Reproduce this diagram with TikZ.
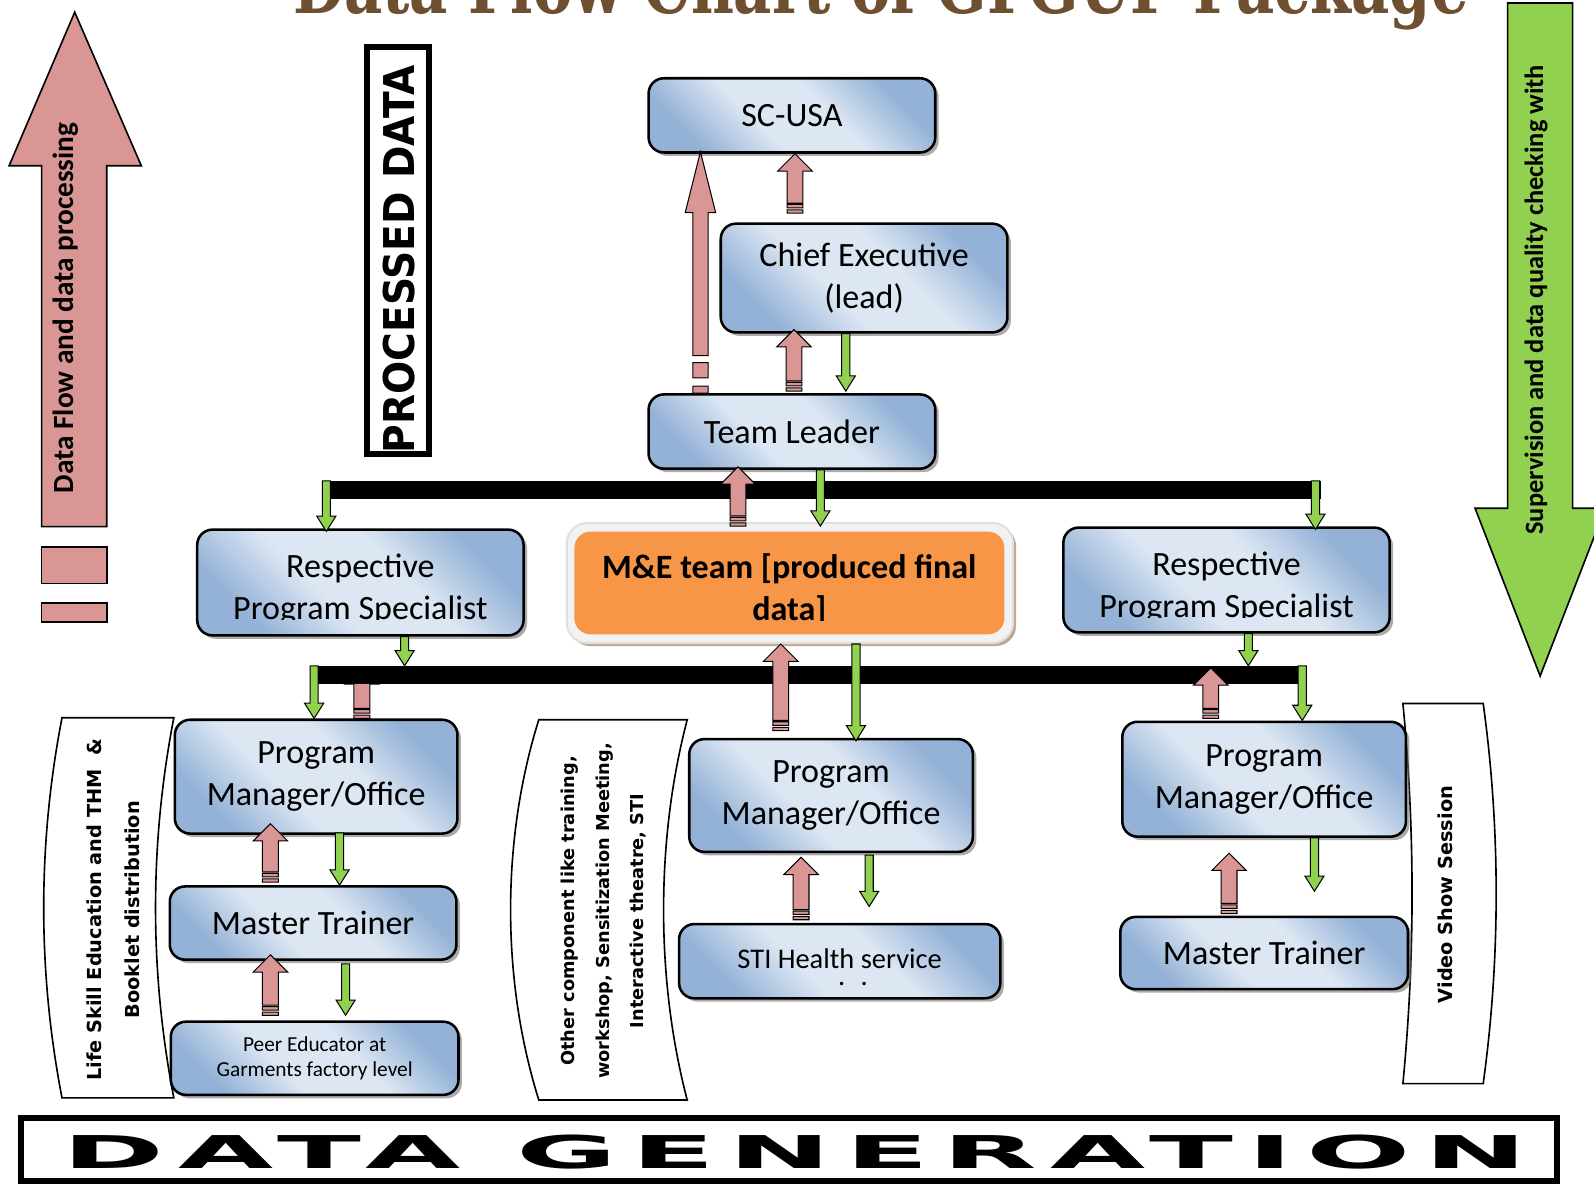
\documentclass[tikz,border=0pt]{standalone}
\usepackage{fontspec}
\setmainfont{Carlito}
\newfontfamily\vfont{DejaVu Sans}
\newfontfamily\genfont{DejaVu Sans}[LetterSpace=11]
\newfontfamily\titlefont{DejaVu Serif}
\usetikzlibrary{calc,shadows}
\definecolor{pinkc}{HTML}{D99694}
\definecolor{greenc}{HTML}{92D050}
\definecolor{orangec}{HTML}{F79646}
\definecolor{blight}{HTML}{DDE7F3}
\definecolor{bdark}{HTML}{94B2D7}
\definecolor{bronze}{HTML}{6E5030}
\pgfdeclarehorizontalshading{boxshade}{100bp}{color(0bp)=(bdark); color(26bp)=(bdark); color(42bp)=(blight); color(58bp)=(blight); color(74bp)=(bdark); color(100bp)=(bdark)}
\newcommand\bxfont{\fontsize{16.75pt}{20.5pt}\selectfont}
\newcommand\greenarrow[2]{\path[garrow] let \p1=#1, \p2=#2 in
  (\x1-2pt,\y1) -- (\x1-2pt,\y2+7.5pt) -- (\x1-4.7pt,\y2+7.5pt) -- (\x1,\y2)
  -- (\x1+4.7pt,\y2+7.5pt) -- (\x1+2pt,\y2+7.5pt) -- (\x1+2pt,\y1) -- cycle;}
\newcommand\pinkarrow[2]{\path[parrow] let \p1=#1, \p2=#2 in
  (\x1-3.9pt,\y1+5pt) -- (\x1-3.9pt,\y2-8.5pt) -- (\x1-8.5pt,\y2-8.5pt) -- (\x1,\y2)
  -- (\x1+8.5pt,\y2-8.5pt) -- (\x1+3.9pt,\y2-8.5pt) -- (\x1+3.9pt,\y1+5pt) -- cycle
  (\x1-3.9pt,\y1) rectangle (\x1+3.9pt,\y1+1.6pt)
  (\x1-3.9pt,\y1+2.6pt) rectangle (\x1+3.9pt,\y1+4.3pt);}
\newcommand\longpink[2]{\path[parrow] let \p1=#1, \p2=#2 in
  (\x1-3.75pt,\y1+18.5pt) -- (\x1-3.75pt,\y2-30pt) -- (\x1-7.5pt,\y2-30pt) -- (\x1,\y2)
  -- (\x1+7.5pt,\y2-30pt) -- (\x1+3.75pt,\y2-30pt) -- (\x1+3.75pt,\y1+18.5pt) -- cycle
  (\x1-3.75pt,\y1) rectangle (\x1+3.75pt,\y1+3.5pt)
  (\x1-3.75pt,\y1+7.5pt) rectangle (\x1+3.75pt,\y1+15pt);}
\tikzset{bbox/.style={draw=black, line width=1.25pt, rounded corners=7.5pt, shade, shading=boxshade,
    shading angle=45, drop shadow={shadow xshift=1.7pt, shadow yshift=-1.7pt, fill=black!55, opacity=0.6},
    inner sep=0pt, align=center, font=\bxfont}}
\tikzset{garrow/.style={draw=black, line width=0.5pt, fill=greenc}}
\tikzset{parrow/.style={draw=black, line width=0.5pt, fill=pinkc}}
\tikzset{panel/.style={draw=black, line width=0.8pt, fill=white}}
\tikzset{vtext/.style={rotate=90, align=center, inner sep=0pt}}
\tikzset{lbl/.style={anchor=base, inner sep=0pt, font=\bxfont}}
\begin{document}
\begin{tikzpicture}[x=0.5pt, y=-0.5pt]
\useasboundingbox (0,0) rectangle (1568,1165);
\fill[white] (0,0) rectangle (1568,1165);

% title (cut off at the top)
\begin{scope}
\clip (0,0) rectangle (1568,40);
\node[anchor=base, inner sep=0pt, text=bronze] (title) at (866.5,13)
  {\resizebox{578pt}{28pt}{\titlefont\bfseries Data Flow Chart of GFGUF Package}};
\end{scope}

% big side arrows
\path[parrow, line width=0.8pt] (41,518) -- (41,163) -- (9,163) -- (73.5,12) -- (139,163) -- (105,163) -- (105,518) -- cycle;
\path[parrow, line width=0.8pt] (41,538) rectangle (105,574);
\path[parrow, line width=0.8pt] (41,593) rectangle (105,612);
\node[rotate=90, inner sep=0pt, font=\bfseries\fontsize{14.4pt}{16pt}\selectfont] (leftlbl) at (65,303) {Data Flow and data processing};

\path[garrow, line width=0.8pt] (1483,3) -- (1547,3) -- (1547,500) -- (1579,500) -- (1515,665) -- (1451,500) -- (1483,500) -- cycle;
\node[rotate=90, inner sep=0pt, font=\bfseries\fontsize{13pt}{15pt}\selectfont] (rightlbl) at (1511,295) {Supervision and data quality checking with};

% processed data
\node[draw, line width=3pt, minimum width=30.5pt, minimum height=200.5pt, inner sep=0pt] (pdbox) at (391.5,246.5) {};
\node[rotate=90, inner sep=0pt] (pd) at (392.5,255) {\resizebox{191pt}{15.5pt}{\vfont\bfseries PROCESSED DATA}};

% data generation
\node[draw, line width=3pt, minimum width=755.5pt, minimum height=31pt, inner sep=0pt] (dgbox) at (776.5,1131) {};
\node[inner sep=0pt] (dg) at (775.5,1133.5) {\resizebox{713.5pt}{16.5pt}{\genfont\bfseries DATA GENERATION\kern-0.11em}};

% side panels
\path[panel] (61,706) -- (171,706) .. controls (147,830) and (147,956) .. (171,1080) -- (61,1080) .. controls (37,956) and (37,830) .. (61,706) -- cycle;
\node[vtext, font=\vfont\bfseries\fontsize{9.5pt}{18.5pt}\selectfont] (lp) at (111.5,895) {Life Skill Education and THM\ \ \&\\Booklet distribution};
\path[panel] (530,708) -- (676,708) .. controls (645,826) and (645,964) .. (676,1082) -- (530,1082) .. controls (493,964) and (493,826) .. (530,708) -- cycle;
\node[vtext, font=\vfont\bfseries\fontsize{8.75pt}{17pt}\selectfont] (mp) at (594,896) {Other component like training,\\workshop, Sensitization Meeting,\\Interactive theatre, STI};
\path[panel] (1380,692) -- (1459,692) .. controls (1476,816) and (1476,942) .. (1459,1066) -- (1380,1066) .. controls (1392,942) and (1392,816) .. (1380,692) -- cycle;
\node[vtext, font=\vfont\bfseries\fontsize{9.5pt}{12pt}\selectfont] (rp) at (1422,880) {Video Show Session};

% bars
\coordinate (bar1) at (0,473);
\coordinate (bar2) at (0,655);

% boxes
\node[bbox, minimum width=141pt, minimum height=36.5pt] (sc) at (779,113.5) {SC-USA};
\node[bbox, minimum width=141pt, minimum height=53.5pt] (ce) at (850,273.5) {Chief Executive\\(lead)};
\node[bbox, minimum width=141pt, minimum height=36.5pt] (tl) at (779,424.5) {Team Leader};
\node[bbox, minimum width=160.5pt, minimum height=52pt] (rps1) at (354.5,573) {};
\node[bbox, minimum width=160.5pt, minimum height=51.5pt] (rps2) at (1206.5,570.5) {};
\node[draw=black!12, line width=1pt, fill=black!5, rounded corners=10pt, minimum width=219.5pt, minimum height=59pt, inner sep=0pt,
  drop shadow={shadow xshift=1.5pt, shadow yshift=-1.5pt, fill=brown!75!black, opacity=0.55}] (meo) at (777,573.5) {};
\node[fill=orangec, rounded corners=8pt, minimum width=211.5pt, minimum height=50.5pt, inner sep=0pt] (me) at (776.5,573.5) {};
\begin{scope}
\clip (194,521) rectangle (515,609);
\node[lbl] (rps1a) at (354.5,568) {Respective};
\node[lbl] (rps1b) at (354.5,609) {Program Specialist};
\end{scope}
\begin{scope}
\clip (1046,519) rectangle (1367,607);
\node[lbl] (rps2a) at (1206.5,566) {Respective};
\node[lbl] (rps2b) at (1206.5,607) {Program Specialist};
\end{scope}
\begin{scope}
\clip (565,523) rectangle (988,610);
\node[lbl, font=\bxfont\bfseries] (mea) at (776.5,569) {M\&E team [produced final};
\node[lbl, font=\bxfont\bfseries] (meb) at (776.5,610) {data]};
\end{scope}
\node[bbox, minimum width=139pt, minimum height=56pt] (pm1) at (311,764) {Program\\Manager/Office};
\node[bbox, minimum width=141pt, minimum height=36pt] (mt1) at (308,908) {Master Trainer};
\node[bbox, minimum width=141.5pt, minimum height=36pt, font=\fontsize{10.5pt}{12.5pt}\selectfont] (pe) at (309.5,1041) {Peer Educator at\\Garments factory level};
\node[bbox, minimum width=139.5pt, minimum height=55.5pt] (pm2) at (817.5,782.5) {Program\\Manager/Office};
\node[bbox, minimum width=158pt, minimum height=36.5pt, font=\fontsize{14pt}{16pt}\selectfont] (sti) at (826,945.5) {\raisebox{2.3pt}{STI Health service}};
\node[anchor=base, inner sep=0pt, font=\fontsize{14pt}{14pt}\selectfont] (stidots) at (839,969) {.\hspace{7.5pt}.};
\node[bbox, minimum width=139.5pt, minimum height=56.5pt] (pm3) at (1243.5,766.5) {Program\\Manager/Office};
\node[bbox, minimum width=141.5pt, minimum height=35.5pt] (mt3) at (1243.5,937.5) {Master Trainer};

% arrow hidden under the lower bar, then the bars
\pinkarrow{(356,0 |- pm1.north)}{($(356,0 |- bar2)+(0,1)$)}
\fill (323,473) rectangle (1299,491);
\fill (308,655) rectangle (1286,673);

% pink (upward) arrows
\pinkarrow{($(782,0 |- ce.north)+(0,-9)$)}{(782,0 |- sc.south)}
\longpink{(689,0 |- tl.north)}{($(689,0 |- sc.south)+(0,-2)$)}
\pinkarrow{($(781,0 |- tl.north)+(0,-2)$)}{($(781,0 |- ce.south)+(0,-4)$)}
\pinkarrow{($(726,0 |- meo.north)+(0,4)$)}{($(726,0 |- tl.south)+(0,-3)$)}
\pinkarrow{($(768,0 |- pm2.north)+(0,-7)$)}{(768,0 |- meo.south)}
\pinkarrow{($(1191,0 |- pm3.north)+(0,-2)$)}{($(1191,0 |- bar2)+(0,2)$)}
\pinkarrow{($(266,0 |- mt1.north)+(0,-3)$)}{($(266,0 |- pm1.south)+(0,-11)$)}
\pinkarrow{($(266,0 |- pe.north)+(0,-5)$)}{($(266,0 |- mt1.south)+(0,-6)$)}
\pinkarrow{($(788,0 |- sti.north)+(0,-3)$)}{($(788,0 |- pm2.south)+(0,4)$)}
\pinkarrow{($(1209,0 |- mt3.north)+(0,-2)$)}{($(1209,0 |- pm3.south)+(0,15)$)}

% green (downward) arrows
\greenarrow{(832,0 |- ce.south)}{($(832,0 |- tl.north)+(0,-2)$)}
\greenarrow{(807,0 |- tl.south)}{($(807,0 |- meo.north)+(0,4)$)}
\greenarrow{(321,0 |- bar1)}{($(321,0 |- rps1.north)+(0,3)$)}
\greenarrow{(1294,0 |- bar1)}{($(1294,0 |- rps2.north)+(0,3)$)}
\greenarrow{(398,0 |- rps1.south)}{(398,0 |- bar2)}
\greenarrow{(1228,0 |- rps2.south)}{(1228,0 |- bar2)}
\greenarrow{(309,0 |- bar2)}{(309,0 |- pm1.north)}
\greenarrow{(842,0 |- meo.south)}{($(842,0 |- pm2.north)+(0,3)$)}
\greenarrow{(1281,0 |- bar2)}{(1281,0 |- pm3.north)}
\greenarrow{($(334,0 |- pm1.south)+(0,-2)$)}{(334,0 |- mt1.north)}
\greenarrow{($(340,0 |- mt1.south)+(0,3)$)}{($(340,0 |- pe.north)+(0,-5)$)}
\greenarrow{($(855,0 |- pm2.south)+(0,2)$)}{($(855,0 |- sti.north)+(0,-16)$)}
\greenarrow{(1293,0 |- pm3.south)}{($(1293,0 |- mt3.north)+(0,-24)$)}
\end{tikzpicture}
\end{document}
